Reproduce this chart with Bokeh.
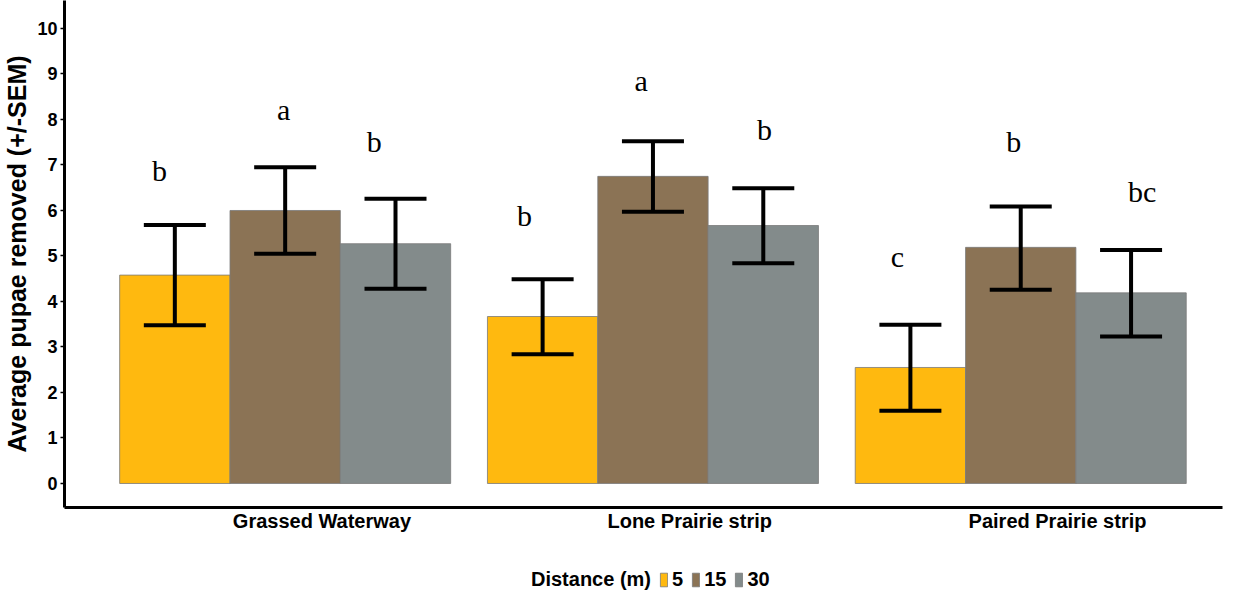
import numpy as np
from bokeh.plotting import figure
from bokeh.layouts import column
from bokeh.models import (ColumnDataSource, Whisker, TeeHead, FixedTicker, Legend,
                          LegendItem, Range1d)
from bokeh.core.properties import value
from bokeh.embed import file_html
from bokeh.resources import INLINE

# ---------------- data ----------------
habitats = ["Grassed Waterway", "Lone Prairie strip", "Paired Prairie strip"]
distances = ["5", "15", "30"]

mean_5 = [4.58, 3.67, 2.55]
mean_15 = [6.00, 6.75, 5.19]
mean_30 = [5.27, 5.67, 4.19]

lower_5 = [3.48, 2.84, 1.60]
upper_5 = [5.68, 4.49, 3.49]
lower_15 = [5.05, 5.97, 4.26]
upper_15 = [6.95, 7.52, 6.09]
lower_30 = [4.28, 4.84, 3.23]
upper_30 = [6.26, 6.49, 5.13]

letters_5 = ["b", "b", "c"]
letters_15 = ["a", "a", "b"]
letters_30 = ["b", "b", "bc"]
letter_y_5 = [6.62, 5.63, 4.73]
letter_y_15 = [7.96, 8.59, 7.25]
letter_y_30 = [7.25, 7.52, 6.15]
letter_dx_5 = [-0.042, -0.049, -0.035]
letter_dx_15 = [-0.004, -0.032, -0.019]
letter_dx_30 = [-0.058, 0.003, 0.030]

y_ticks = [0, 1, 2, 3, 4, 5, 6, 7, 8, 9, 10]
colors = ["#FFB90F", "#8B7355", "#838B8B"]

series = [
    (mean_5, lower_5, upper_5, letters_5, letter_y_5, letter_dx_5),
    (mean_15, lower_15, upper_15, letters_15, letter_y_15, letter_dx_15),
    (mean_30, lower_30, upper_30, letters_30, letter_y_30, letter_dx_30),
]

bar_w = 0.3
offsets = [-0.3, 0.0, 0.3]
label_shift = 0.1

FONT = "Liberation Sans"
SERIF = "Liberation Serif"

p = figure(width=1228, height=540,
           x_range=Range1d(-0.6, 2.5486), y_range=Range1d(-0.5275, 10.615),
           output_backend="svg", toolbar_location=None,
           min_border_left=57, min_border_right=6, min_border_top=0,
           min_border_bottom=33)
p.outline_line_color = None
p.xgrid.visible = False
p.ygrid.visible = False
p.background_fill_color = "white"

for k, (means, lows, ups, letters, ly, ldx) in enumerate(series):
    xs = [i + offsets[k] for i in range(len(habitats))]
    src = ColumnDataSource(dict(x=xs, top=means, lower=lows, upper=ups,
                                lx=[x + d for x, d in zip(xs, ldx)], ly=ly, lt=letters))
    p.vbar(x="x", top="top", bottom=0, width=bar_w, source=src,
           fill_color=colors[k], line_color="#7a7a7a", line_alpha=0.8, line_width=1)
    w = Whisker(source=src, base="x", upper="upper", lower="lower", level="annotation",
                line_color="black", line_width=4,
                upper_head=TeeHead(size=62, line_width=4, line_color="black"),
                lower_head=TeeHead(size=62, line_width=4, line_color="black"))
    p.add_layout(w)
    p.text(x="lx", y="ly", text="lt", source=src, text_font=value(SERIF),
           text_font_size="30px", text_align="center", text_baseline="alphabetic",
           y_offset=-12, text_color="black")

# y axis
ya = p.yaxis[0]
ya.ticker = FixedTicker(ticks=y_ticks)
ya.axis_label = "Average pupae removed (+/-SEM)"
ya.axis_label_text_font = FONT
ya.axis_label_text_font_style = "bold"
ya.axis_label_text_font_size = "25px"
ya.axis_label_text_color = "black"
ya.axis_label_standoff = 3
ya.major_label_text_font = FONT
ya.major_label_text_font_style = "bold"
ya.major_label_text_font_size = "18px"
ya.major_label_text_color = "black"
ya.major_label_standoff = 3
ya.major_tick_out = 4
ya.major_tick_in = 0
ya.major_tick_line_width = 1.5
ya.major_tick_line_color = "black"
ya.minor_tick_line_color = None
ya.axis_line_width = 3
ya.axis_line_color = "black"

# x axis
xa = p.xaxis[0]
label_pos = [i + label_shift for i in range(len(habitats))]
xa.ticker = FixedTicker(ticks=label_pos)
xa.major_label_overrides = {pos: name for pos, name in zip(label_pos, habitats)}
xa.major_label_text_font = FONT
xa.major_label_text_font_style = "bold"
xa.major_label_text_font_size = "20px"
xa.major_label_text_color = "black"
xa.major_label_standoff = 2
xa.major_tick_out = 0
xa.major_tick_in = 0
xa.minor_tick_line_color = None
xa.axis_line_width = 3
xa.axis_line_color = "black"

# ---------------- legend strip ----------------
p2 = figure(width=1228, height=52, x_range=Range1d(0, 1), y_range=Range1d(0, 1),
            output_backend="svg", toolbar_location=None,
            x_axis_location=None, y_axis_location=None,
            min_border_left=0, min_border_right=0, min_border_top=0, min_border_bottom=0)
p2.outline_line_color = None
p2.xgrid.visible = False
p2.ygrid.visible = False

nan_src = dict(x=np.array([np.nan]), top=np.array([np.nan]))
items = []
dummy = p2.vbar(x="x", top="top", width=0.1, source=ColumnDataSource(nan_src),
                fill_alpha=0, line_alpha=0)
items.append(LegendItem(label="Distance (m)", renderers=[dummy]))
for k, d in enumerate(distances):
    r = p2.vbar(x="x", top="top", width=0.1, source=ColumnDataSource(dict(nan_src)),
                fill_color=colors[k], line_color="#7a7a7a", line_alpha=0.8, line_width=1)
    items.append(LegendItem(label=d, renderers=[r]))

legend = Legend(items=items, orientation="horizontal", location=(454, 1),
                label_text_font=FONT, label_text_font_style="bold",
                label_text_font_size="20px", label_text_color="black",
                glyph_width=9, glyph_height=17, label_standoff=4, spacing=8,
                label_width=0, label_height=17, padding=0, margin=0,
                border_line_alpha=0, background_fill_alpha=0)
p2.add_layout(legend, "center")

layout = column(p, p2, spacing=0)
open("out.html", "w").write(file_html(layout, INLINE))
